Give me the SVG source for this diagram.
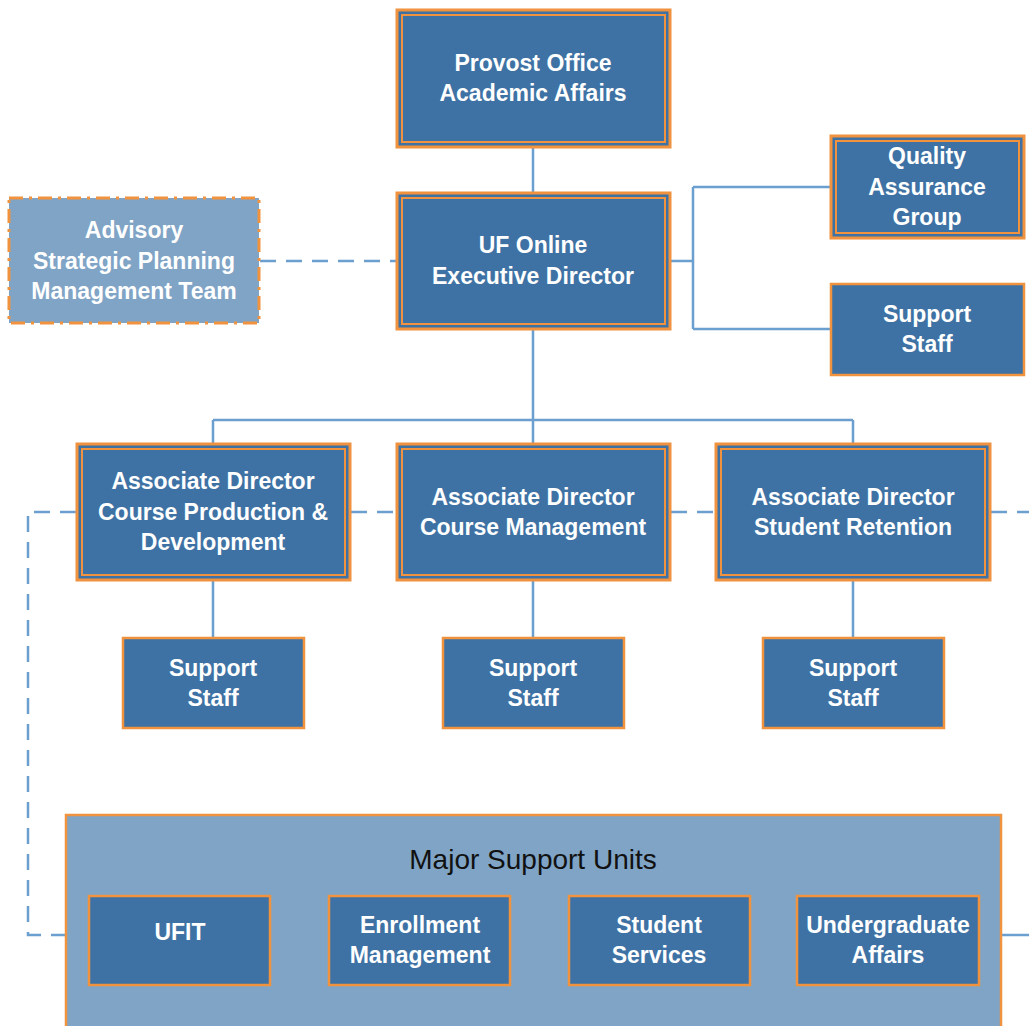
<svg xmlns="http://www.w3.org/2000/svg" width="1029" height="1026" viewBox="0 0 1029 1026">
<style>
.n{fill:#3e72a4;stroke:#f0923e;stroke-width:3}
.in{fill:none;stroke:#f0923e;stroke-width:2}
.s{fill:#3e72a4;stroke:#f0923e;stroke-width:2.5}
.t{font-family:"Liberation Sans",Arial,sans-serif;font-weight:bold;font-size:23px;fill:#fff;text-anchor:middle}
.c{fill:none;stroke:#6b9fd0;stroke-width:2.5}
.d{fill:none;stroke:#6b9fd0;stroke-width:2.5;stroke-dasharray:16,10}
</style>
<rect width="1029" height="1026" fill="#fff"/>
<g id="connectors">
<path class="c" d="M533,148V192"/>
<path class="c" d="M671,261H693M693,187V329M693,187H830M693,329H830"/>
<path class="d" d="M260,261H396"/>
<path class="c" d="M533,330V443M213,420H853M213,420V443M853,420V443"/>
<path class="c" d="M213,581V637M533,581V637M853,581V637"/>
<path class="d" d="M76,512H28V935H65"/>
<path class="d" d="M351,512H396M671,512H715M991,512H1029"/>
<path class="c" d="M1001,935H1029"/>
</g>
<g id="provost">
<rect class="n" x="397" y="10" width="273" height="137"/>
<rect class="in" x="402" y="15" width="263" height="127"/>
<text class="t" x="533" y="71">Provost Office</text>
<text class="t" x="533" y="101">Academic Affairs</text>
</g>
<g id="ufonline">
<rect class="n" x="397" y="193" width="273" height="136"/>
<rect class="in" x="402" y="198" width="263" height="126"/>
<text class="t" x="533" y="253">UF Online</text>
<text class="t" x="533" y="284">Executive Director</text>
</g>
<g id="advisory">
<rect x="9" y="198" width="250" height="125" fill="#7fa4c6" stroke="#f0923e" stroke-width="3" stroke-dasharray="14,6,3,6"/>
<text class="t" x="134" y="238">Advisory</text>
<text class="t" x="134" y="269">Strategic Planning</text>
<text class="t" x="134" y="299">Management Team</text>
</g>
<g id="qa">
<rect class="n" x="831" y="136" width="193" height="102"/>
<rect class="in" x="836" y="141" width="183" height="92"/>
<text class="t" x="927" y="164">Quality</text>
<text class="t" x="927" y="195">Assurance</text>
<text class="t" x="927" y="225">Group</text>
</g>
<g id="support-top">
<rect class="s" x="831" y="284" width="193" height="91"/>
<text class="t" x="927" y="322">Support</text>
<text class="t" x="927" y="352">Staff</text>
</g>
<g id="ad-production">
<rect class="n" x="77" y="444" width="273" height="136"/>
<rect class="in" x="82" y="449" width="263" height="126"/>
<text class="t" x="213" y="489">Associate Director</text>
<text class="t" x="213" y="520">Course Production &amp;</text>
<text class="t" x="213" y="550">Development</text>
</g>
<g id="ad-management">
<rect class="n" x="397" y="444" width="273" height="136"/>
<rect class="in" x="402" y="449" width="263" height="126"/>
<text class="t" x="533" y="505">Associate Director</text>
<text class="t" x="533" y="535">Course Management</text>
</g>
<g id="ad-retention">
<rect class="n" x="716" y="444" width="274" height="136"/>
<rect class="in" x="721" y="449" width="264" height="126"/>
<text class="t" x="853" y="505">Associate Director</text>
<text class="t" x="853" y="535">Student Retention</text>
</g>
<g id="support-1">
<rect class="s" x="123" y="638" width="181" height="90"/>
<text class="t" x="213" y="676">Support</text>
<text class="t" x="213" y="706">Staff</text>
</g>
<g id="support-2">
<rect class="s" x="443" y="638" width="181" height="90"/>
<text class="t" x="533" y="676">Support</text>
<text class="t" x="533" y="706">Staff</text>
</g>
<g id="support-3">
<rect class="s" x="763" y="638" width="181" height="90"/>
<text class="t" x="853" y="676">Support</text>
<text class="t" x="853" y="706">Staff</text>
</g>
<g id="major-support-units">
<rect x="66" y="815" width="935" height="220" fill="#7fa4c6" stroke="#f0923e" stroke-width="2.5"/>
<text x="533" y="869" font-family="Liberation Sans,Arial,sans-serif" font-size="28" fill="#111" text-anchor="middle">Major Support Units</text>
</g>
<g id="ufit">
<rect class="s" x="89" y="896" width="181" height="89"/>
<text class="t" x="180" y="940">UFIT</text>
</g>
<g id="enrollment">
<rect class="s" x="329" y="896" width="181" height="89"/>
<text class="t" x="420" y="933">Enrollment</text>
<text class="t" x="420" y="963">Management</text>
</g>
<g id="student-services">
<rect class="s" x="569" y="896" width="181" height="89"/>
<text class="t" x="659" y="933">Student</text>
<text class="t" x="659" y="963">Services</text>
</g>
<g id="undergrad">
<rect class="s" x="797" y="896" width="182" height="89"/>
<text class="t" x="888" y="933">Undergraduate</text>
<text class="t" x="888" y="963">Affairs</text>
</g>
</svg>
